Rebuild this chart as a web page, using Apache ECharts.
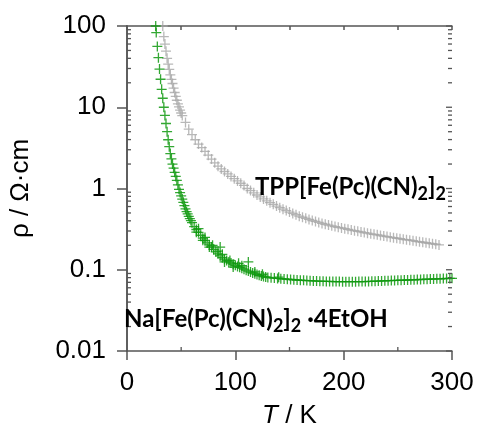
<!DOCTYPE html>
<html><head><meta charset="utf-8">
<script src="https://cdn.jsdelivr.net/npm/echarts@6/dist/echarts.min.js"></script>
<style>html,body{margin:0;padding:0;background:#fff}#c{width:479px;height:434px}</style>
</head><body><div id="c"></div>
<script>
// TPP[Fe(Pc)(CN)2]2  (grey)
const tppT = [33,34,35,36,37,38,39,40,41,42,43,44,45,46,47,48,49,50,51,
  54,57,60,63,66,69,72,75,78,81,84,87,90,93,96,99,102,105,108,111,114,117,120,123,126,129,
  132,135,138,141,144,147,150,153,156,159,162,165,168,171,174,177,180,183,186,189,192,195,198,
  201,204,207,210,213,216,219,222,225,228,231,234,237,240,243,246,249,252,255,258,261,264,267,
  270,273,276,279,282,285,288];
const tppRho = [100,74,60,49,40,34,29.3,25,22,19.6,17.2,15.2,13.6,12.2,11,10.1,9.2,8.5,7.9,
  6.5,5.37,4.6,3.98,3.52,3.19,2.87,2.57,2.3,2.07,1.88,1.74,1.62,1.51,1.41,1.32,1.24,1.16,1.09,1.0,0.942,0.885,0.832,0.787,0.745,0.705,
  0.67,0.638,0.608,0.581,0.557,0.535,0.513,0.494,0.475,0.457,0.443,0.429,0.416,0.404,0.393,0.382,0.372,0.363,0.355,0.347,0.34,0.333,0.327,
  0.32,0.314,0.308,0.303,0.297,0.292,0.287,0.282,0.277,0.273,0.269,0.264,0.26,0.256,0.252,0.248,0.244,0.241,0.237,0.234,0.231,0.228,0.224,
  0.221,0.218,0.215,0.212,0.209,0.206,0.202];

// Na[Fe(Pc)(CN)2]2·4EtOH  (green)
const naT = [26.5,27,28,29,30,31,32,33,34,35,36,37,38,39,40,41,42,43,44,45,46,47,48,49,50,
  51,52,53,54,55,56,57,58,59,60,
  62,64,66,68,70,72,74,76,78,80,82,84,86,88,90,92,94,96,98,100,102,104,106,108,110,
  112,114,116,118,120,122,124,126,128,130,
  133,136,139,142,145,148,151,154,157,160,163,166,169,172,175,178,181,184,187,190,
  193,196,199,202,205,208,211,214,217,220,223,226,229,232,235,238,241,244,247,250,
  253,256,259,262,265,268,271,274,277,280,283,286,289,292,295,298,300,
  64,66,70,72,76,79,84,86,88,90,95,98,103,106,112,118,125,140];
const naRho = [100,83,56,40.7,29.5,22.1,16.6,12.9,10,7.94,6.31,5.01,3.98,3.27,2.69,2.32,2.0,1.78,1.58,1.41,1.26,1.11,0.977,0.891,0.813,
  0.741,0.676,0.617,0.562,0.519,0.486,0.455,0.427,0.403,0.38,
  0.339,0.313,0.288,0.266,0.245,0.229,0.214,0.202,0.191,0.178,0.166,0.157,0.148,0.141,0.135,0.13,0.125,0.121,0.117,0.1135,0.11,0.107,0.1045,0.1016,0.0989,
  0.0962,0.0935,0.0912,0.0891,0.0871,0.0855,0.0839,0.0826,0.0815,0.0804,
  0.0796,0.0789,0.0782,0.0776,0.0769,0.0764,0.0759,0.0753,0.0748,0.0743,0.074,0.0736,0.0733,0.0729,0.0726,0.0723,0.0721,0.0719,0.0718,0.0716,
  0.0715,0.0715,0.0713,0.0713,0.0713,0.0713,0.0713,0.0715,0.0715,0.0716,0.0718,0.0721,0.0723,0.0726,0.0728,0.0731,0.0733,0.0736,0.0738,0.0741,
  0.0743,0.0746,0.0748,0.0752,0.0753,0.0757,0.0759,0.0762,0.0764,0.0767,0.0769,0.0773,0.0774,0.0778,0.078,0.0783,0.0785,
  0.29,0.32,0.23,0.25,0.19,0.2,0.17,0.19,0.155,0.125,0.13,0.108,0.12,0.112,0.125,0.094,0.088,0.081];

// axis tick positions
const xMinorTicks = [50,150,250];
const yMinorTicks = [0.02,0.03,0.04,0.05,0.06,0.07,0.08,0.09,0.2,0.3,0.4,0.5,0.6,0.7,0.8,0.9,
  2,3,4,5,6,7,8,9,20,30,40,50,60,70,80,90];
const yMajorTicks = [0.01,0.1,1,10,100];

const zip = (a, b) => a.map((v, i) => [v, b[i]]);
const PLUS = 'path://M4.35,0H5.65V4.35H10V5.65H5.65V10H4.35V5.65H0V4.35H4.35Z';
const AX = '#555';
const FF = '"Liberation Sans", Arial, sans-serif';
const LF = 'Lato, "Open Sans", sans-serif';

// tick marks: [x, y, dx, dy] (inner ticks drawn with the chart's own scales)
const tickData = [];
yMinorTicks.forEach(v => { tickData.push([0, v, 4, 0]); tickData.push([300, v, -4, 0]); });
yMajorTicks.forEach(v => { tickData.push([300, v, -6, 0]); });
xMinorTicks.forEach(t => { tickData.push([t, 0.01, 0, -4]); });

const chart = echarts.init(document.getElementById('c'), null, {renderer: 'canvas'});
const lbl = {m: {fontSize: 24, fontWeight: 'bold', fontFamily: LF, color: '#000', lineHeight: 28, verticalAlign: 'top'},
             s: {fontSize: 18, fontWeight: 'bold', fontFamily: LF, color: '#000', lineHeight: 19, padding: [14, 0, 0, 0], verticalAlign: 'bottom'}};
chart.setOption({
  animation: false,
  backgroundColor: '#fff',
  grid: {left: 113, right: 27, top: 26, bottom: 73, containLabel: false},
  xAxis: [
    {type: 'value', position: 'bottom', min: 0, max: 300, interval: 100,
     axisLine: {lineStyle: {color: AX, width: 1.5}},
     axisTick: {inside: false, length: 9, lineStyle: {color: AX, width: 1.5}},
     axisLabel: {fontSize: 26, color: '#000', fontFamily: FF, margin: 19},
     splitLine: {show: false},
     name: '{i|T} / K', nameLocation: 'middle', nameGap: 52,
     nameTextStyle: {fontSize: 26, color: '#000', fontFamily: FF,
       rich: {i: {fontStyle: 'italic', fontSize: 26, fontFamily: FF, color: '#000'}}}},
    {type: 'value', position: 'top', min: 0, max: 300, interval: 50,
     axisLine: {show: true, lineStyle: {color: AX, width: 1.5}},
     axisTick: {inside: true, length: 4, lineStyle: {color: AX, width: 1.5}},
     axisLabel: {show: false}, splitLine: {show: false}}
  ],
  yAxis: [
    {type: 'log', logBase: 10, position: 'left', min: 0.01, max: 100,
     axisLine: {show: true, lineStyle: {color: AX, width: 1.5}},
     axisTick: {show: true, inside: false, length: 10, lineStyle: {color: AX, width: 1.5}},
     axisLabel: {fontSize: 26, color: '#000', fontFamily: FF, margin: 21},
     splitLine: {show: false},
     name: 'ρ / Ω·cm', nameLocation: 'middle', nameGap: 93,
     nameTextStyle: {fontSize: 26, color: '#000', fontFamily: FF}},
    {type: 'log', logBase: 10, position: 'right', min: 0.01, max: 100,
     axisLine: {show: true, lineStyle: {color: AX, width: 1.5}},
     axisTick: {show: false}, axisLabel: {show: false}, splitLine: {show: false}}
  ],
  series: [
    {type: 'custom', name: 'ticks', data: tickData, clip: false, silent: true, z: 5,
     dimensions: ['x', 'y', 'dx', 'dy'], encode: {x: 0, y: 1},
     renderItem: function (params, api) {
       const p = api.coord([api.value(0), api.value(1)]);
       const dx = api.value(2), dy = api.value(3);
       return {type: 'line', shape: {x1: p[0], y1: p[1], x2: p[0] + dx, y2: p[1] + dy},
               style: {stroke: AX, lineWidth: 1.3}};
     }},
    {type: 'scatter', name: 'TPP', data: zip(tppT, tppRho), symbol: PLUS, symbolSize: 10,
     itemStyle: {color: '#a6a6a6', opacity: 0.8}, z: 2},
    {type: 'scatter', name: 'Na', data: zip(naT, naRho), symbol: PLUS, symbolSize: 10,
     itemStyle: {color: '#0f990f', opacity: 0.85}, z: 3}
  ],
  graphic: [
    {type: 'text', x: 446, y: 175, z: 10,
     style: {text: '{m|TPP[Fe(Pc)(CN)}{s|2}{m|]}{s|2}', rich: lbl, align: 'right', verticalAlign: 'top'}},
    {type: 'text', x: 124, y: 307, z: 10,
     style: {text: '{m|Na[Fe(Pc)(CN)}{s|2}{m|]}{s|2}{m| ·4EtOH}', rich: lbl, align: 'left', verticalAlign: 'top'}}
  ]
});
</script>
</body></html>
